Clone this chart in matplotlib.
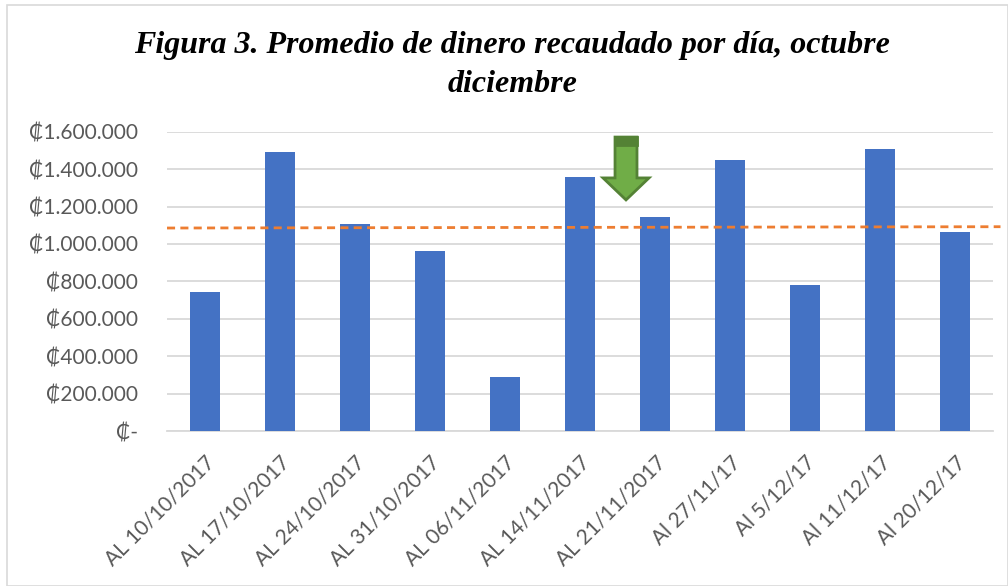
import matplotlib
matplotlib.use("Agg")
import matplotlib.pyplot as plt
from matplotlib.patches import FancyArrow, Rectangle
from matplotlib.ticker import FuncFormatter, MultipleLocator

# data
periodos = ["AL 10/10/2017", "AL 17/10/2017", "AL 24/10/2017", "AL 31/10/2017",
            "AL 06/11/2017", "AL 14/11/2017", "AL 21/11/2017", "Al 27/11/17",
            "Al 5/12/17", "Al 11/12/17", "Al 20/12/17"]
promedio = [742000, 1490000, 1105000, 961000, 289000, 1359000,
            1144000, 1449000, 779000, 1507000, 1065000]
tendencia = [1085000, 1092000]  # dashed line, left and right end

titulo = "Figura 3. Promedio de dinero recaudado por día, octubre\ndiciembre"

gris = "#595959"
fuente = ["Lato", "DejaVu Sans"]


def colones(v, pos):
    if v == 0:
        return "₡-"
    return "₡" + f"{int(v):,}".replace(",", ".")


fig = plt.figure(figsize=(10.08, 5.86), dpi=100)
ax = fig.add_axes([0.1657, 0.2645, 0.8194, 0.5108])

x = list(range(len(periodos)))
ax.bar(x, promedio, width=0.4, color="#4472C4", zorder=3)

# dashed line across the whole plot area
ax.plot([-0.5, 10.6], tendencia, color="#ED7D31", lw=2, ls=(0, (2.9, 1.9)),
        zorder=4, clip_on=False)

ax.set_xlim(-0.5, 10.5)
ax.set_ylim(0, 1600000)
ax.yaxis.set_major_locator(MultipleLocator(200000))
ax.yaxis.set_major_formatter(FuncFormatter(colones))
ax.grid(axis="y", color="#D9D9D9", lw=1.3, zorder=0)

for s in ["top", "right", "left"]:
    ax.spines[s].set_visible(False)
ax.spines["bottom"].set_color("#D9D9D9")
ax.spines["bottom"].set_linewidth(1.3)

ax.set_xticks(x)
ax.set_xticklabels(periodos, rotation=45, ha="right", rotation_mode="anchor")
ax.tick_params(axis="both", length=0, colors=gris, labelsize=15)
ax.tick_params(axis="y", pad=21)
ax.tick_params(axis="x", pad=15)
for t in ax.get_xticklabels() + ax.get_yticklabels():
    t.set_family(fuente)

# green arrow pointing down
flecha = FancyArrow(0.5557, 0.982, 0, -0.21, width=0.0266, head_width=0.0557,
                    head_length=0.0735, length_includes_head=True,
                    transform=ax.transAxes, facecolor="#70AD47",
                    edgecolor="#548235", lw=2, zorder=6, clip_on=False)
ax.add_patch(flecha)
ax.add_patch(Rectangle((0.5557 - 0.0133, 0.955), 0.0266, 0.027,
                       transform=ax.transAxes, facecolor="#548235",
                       edgecolor="#548235", lw=2, zorder=7, clip_on=False))

fig.text(0.508, 1 - 31 / 586, titulo, ha="center", va="top",
         family="Liberation Serif", weight="bold", style="italic",
         fontsize=23, linespacing=1.45)

# chart border
fig.patches.append(Rectangle((7 / 1008, 0), 1 - 7 / 1008, 1 - 5 / 586,
                             transform=fig.transFigure, fill=False,
                             edgecolor="#D9D9D9", lw=1.2))

fig.savefig("out.png", dpi=100)
